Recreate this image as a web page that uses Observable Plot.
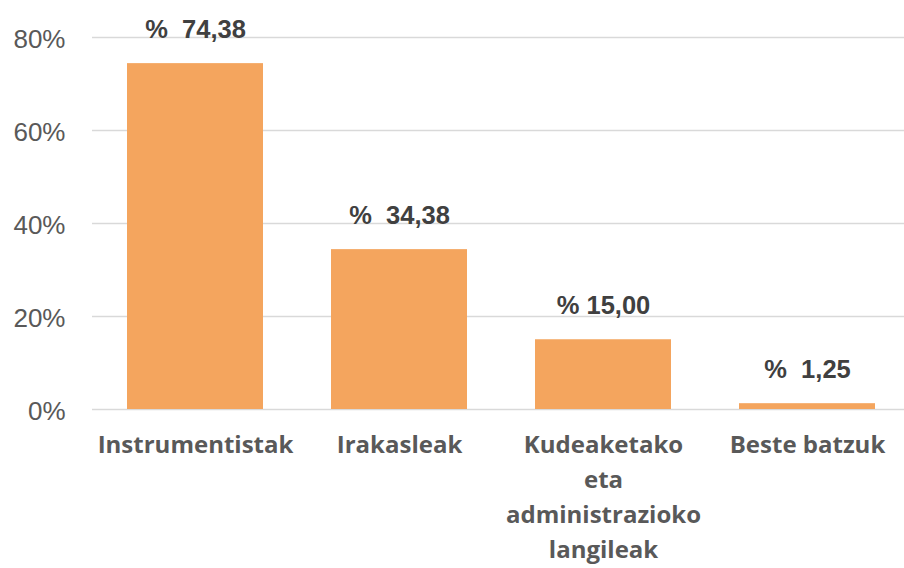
<!DOCTYPE html>
<html>
<head>
<meta charset="utf-8">
<script src="https://cdn.jsdelivr.net/npm/d3@7"></script>
<script src="https://cdn.jsdelivr.net/npm/@observablehq/plot@0.6"></script>
<style>
  html, body { margin: 0; padding: 0; background: #fff; }
  svg text { white-space: pre; }
</style>
</head>
<body>
<div id="chart"></div>
<script>
const categories = ["Instrumentistak", "Irakasleak", "Kudeaketako\neta\nadministrazioko\nlangileak", "Beste batzuk"];
const values = [74.38, 34.38, 15.00, 1.25];
const valueLabels = ["%  74,38", "%  34,38", "% 15,00", "%  1,25"];
const yTicks = [0, 20, 40, 60, 80];

const data = categories.map((c, i) => ({category: c, value: values[i], label: valueLabels[i]}));

const chart = Plot.plot({
  width: 904,
  height: 568,
  marginLeft: 92,
  marginRight: 0,
  marginTop: 37,
  marginBottom: 159,
  style: {fontFamily: "'Liberation Sans', Arial, sans-serif", background: "#fff"},
  x: {domain: categories, range: [92, 910.7], paddingInner: 0.332, paddingOuter: 0.17, label: null},
  y: {domain: [0, 80], label: null},
  marks: [
    Plot.ruleY(yTicks, {stroke: "#d9d9d9", strokeWidth: 1.5}),
    Plot.barY(data, {x: "category", y: "value", fill: "#F4A55E"}),
    Plot.text(data, {x: "category", y: "value", text: "label", dy: -26, lineAnchor: "bottom",
      fill: "#404040", fontSize: 25.5, fontWeight: "bold"}),
    Plot.axisY(yTicks, {tickSize: 0, tickPadding: 27, tickFormat: d => d + "%",
      fontSize: 26, fill: "#595959", color: "#595959", dy: 2}),
    Plot.axisX({tickSize: 0, tickPadding: 18, fontSize: 24, fontWeight: "bold",
      fontFamily: "'Open Sans', sans-serif", lineHeight: 1.47, fill: "#595959", color: "#595959"})
  ]
});
document.getElementById("chart").appendChild(chart);
</script>
</body>
</html>
